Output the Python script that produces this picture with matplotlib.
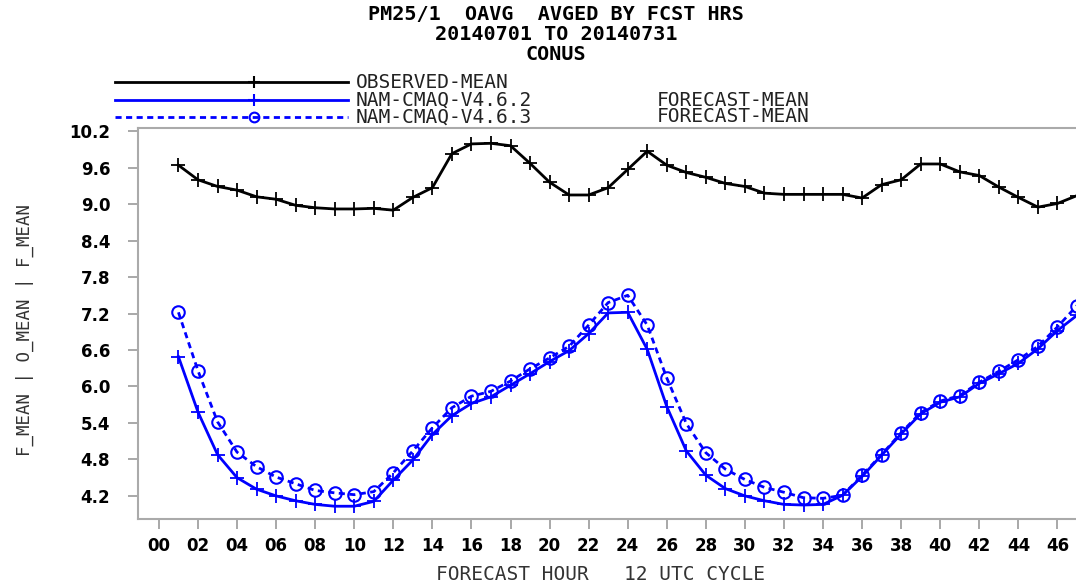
import matplotlib
matplotlib.use("Agg")
import matplotlib.pyplot as plt
from matplotlib.lines import Line2D

# forecast hours 1..47
hours = list(range(1, 48))

observed = [9.64, 9.40, 9.29, 9.23, 9.12, 9.08, 8.98, 8.94, 8.92, 8.92,
            8.93, 8.90, 9.11, 9.27, 9.83, 9.99, 10.00, 9.96, 9.67, 9.36,
            9.15, 9.15, 9.27, 9.57, 9.87, 9.64, 9.52, 9.44, 9.34, 9.29,
            9.18, 9.16, 9.16, 9.16, 9.16, 9.10, 9.32, 9.40, 9.66, 9.66,
            9.53, 9.47, 9.28, 9.11, 8.95, 9.01, 9.14]

v462 = [6.49, 5.58, 4.88, 4.50, 4.31, 4.20, 4.12, 4.06, 4.03, 4.03,
        4.11, 4.46, 4.79, 5.21, 5.52, 5.72, 5.83, 6.02, 6.21, 6.41,
        6.59, 6.87, 7.21, 7.22, 6.61, 5.67, 4.94, 4.54, 4.32, 4.20,
        4.12, 4.06, 4.05, 4.06, 4.21, 4.52, 4.87, 5.22, 5.55, 5.74,
        5.83, 6.05, 6.21, 6.38, 6.62, 6.92, 7.17]

v463 = [7.22, 6.26, 5.42, 4.92, 4.68, 4.51, 4.40, 4.29, 4.25, 4.22,
        4.27, 4.58, 4.94, 5.32, 5.65, 5.84, 5.92, 6.09, 6.29, 6.47,
        6.66, 7.01, 7.38, 7.50, 7.01, 6.14, 5.39, 4.91, 4.64, 4.47,
        4.34, 4.26, 4.17, 4.16, 4.21, 4.54, 4.88, 5.24, 5.57, 5.76,
        5.85, 6.07, 6.25, 6.44, 6.66, 6.98, 7.33]

xticks = list(range(0, 47, 2))
xticklabels = ["%02d" % h for h in xticks]
yticks = [4.2, 4.8, 5.4, 6.0, 6.6, 7.2, 7.8, 8.4, 9.0, 9.6, 10.2]

title_lines = ["PM25/1  OAVG  AVGED BY FCST HRS", "20140701 TO 20140731", "CONUS"]
legend_names = ["OBSERVED-MEAN", "NAM-CMAQ-V4.6.2", "NAM-CMAQ-V4.6.3"]

W, H = 1076, 584
fig = plt.figure(figsize=(W / 100, H / 100), dpi=100)
ax = fig.add_axes([138 / W, 1 - 519 / H, (W - 138) / W, (519 - 127.5) / H])

ax.plot(hours, observed, color="black", lw=2.0, marker="+", ms=10, mew=1.3)
ax.plot(hours, v462, color="#0000ff", lw=2.0, marker="+", ms=10, mew=1.3)
ax.plot(hours, v463, color="#0000ff", lw=2.0, ls=(0, (2.2, 1.6)), marker="o",
        ms=9, mfc="none", mew=1.5)

ax.set_xlim(-1.07, 46.95)
ax.set_ylim(3.82, 10.26)
ax.set_xticks(xticks)
ax.set_xticklabels(xticklabels)
ax.set_yticks(yticks)
ax.set_yticklabels(["%.1f" % v for v in yticks])

for s in ["left", "bottom", "top"]:
    ax.spines[s].set_color("#aaaaaa")
    ax.spines[s].set_linewidth(1.5)
ax.spines["right"].set_visible(False)

ax.tick_params(axis="both", direction="out", color="#999999", width=1.2, length=7)
ax.tick_params(axis="y", pad=13)
ax.tick_params(axis="x", pad=6)
for lab in ax.get_xticklabels() + ax.get_yticklabels():
    lab.set_fontfamily("DejaVu Sans")
    lab.set_fontweight("bold")
    lab.set_fontsize(12)

# titles
for i, t in enumerate(title_lines):
    fig.text(556 / W, 1 - (14 + 20 * i) / H, t, ha="center", va="center",
             family="DejaVu Sans Mono", weight="bold", fontsize=14.5)

# legend drawn above the axes
leg_y = [82, 100, 117]
styles = [dict(color="black", ls="-", marker="+", ms=9, mfc="none"),
          dict(color="#0000ff", ls="-", marker="+", ms=9, mfc="none"),
          dict(color="#0000ff", ls=(0, (2.2, 1.6)), marker="o", ms=7, mfc="none")]
for i, (name, st) in enumerate(zip(legend_names, styles)):
    y = 1 - leg_y[i] / H
    fig.add_artist(Line2D([115 / W, 254 / W, 348 / W], [y, y, y], lw=2.0, mew=1.5,
                          markevery=[1], transform=fig.transFigure, **st))
    fig.text(356 / W, y, name, ha="left", va="center",
             family="DejaVu Sans Mono", fontsize=14, color="#222222")
    if i > 0:
        fig.text(657 / W, y, "FORECAST-MEAN", ha="left", va="center",
                 family="DejaVu Sans Mono", fontsize=14, color="#222222")

fig.text(600 / W, 1 - 574 / H, "FORECAST HOUR   12 UTC CYCLE", ha="center",
         va="center", family="DejaVu Sans Mono", fontsize=14, color="#333333")
fig.text(25 / W, 1 - 330 / H, "F_MEAN | O_MEAN | F_MEAN", ha="center",
         va="center", rotation=90, family="DejaVu Sans Mono", fontsize=12.5,
         color="#333333")

fig.savefig("out.png", dpi=100)
